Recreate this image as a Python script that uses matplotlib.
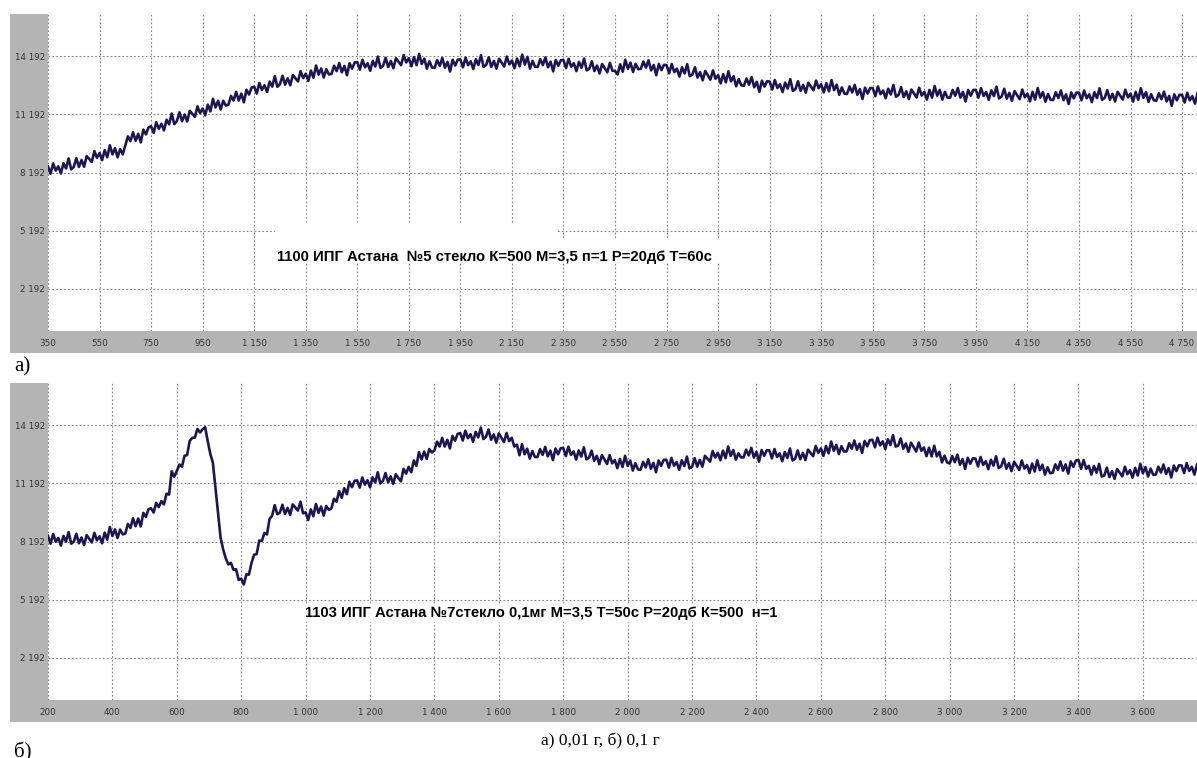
import numpy as np
import matplotlib
matplotlib.use("Agg")
import matplotlib.pyplot as plt
from matplotlib.patches import Rectangle

# ---------------- data ----------------
# Panel a): signal sampled every 10 units starting at 350
x_a_start, x_a_step = 350, 10
signal_a = [
    8500, 8130, 8660, 8290, 8510, 8140, 8670, 8400, 8920, 8350,
    8480, 8930, 8480, 8840, 8490, 9040, 8890, 8740, 9300, 8950,
    9200, 8830, 9350, 8980, 9600, 9130, 9450, 8980, 9400, 9130,
    9600, 10060, 9820, 10270, 9830, 10190, 9750, 10410, 10160, 10520,
    10580, 10240, 10790, 10450, 10710, 10370, 10920, 10680, 11240, 10690,
    10850, 11300, 10840, 11190, 10830, 11380, 11220, 11070, 11610, 11260,
    11500, 11150, 11700, 11350, 12000, 11550, 11900, 11450, 11900, 11650,
    11700, 12150, 11910, 12360, 11910, 12270, 11820, 12470, 12220, 12580,
    12630, 12270, 12820, 12460, 12700, 12350, 12890, 12630, 13170, 12620,
    12760, 13190, 12730, 13060, 12700, 13230, 13060, 12900, 13430, 13070,
    13300, 12930, 13460, 13090, 13720, 13250, 13570, 13100, 13530, 13260,
    13290, 13710, 13430, 13850, 13370, 13700, 13220, 13840, 13560, 13880,
    13900, 13510, 14020, 13630, 13840, 13450, 13960, 13670, 14180, 13590,
    13700, 14120, 13640, 13960, 13580, 14100, 13920, 13740, 14260, 13880,
    14100, 13680, 14160, 13740, 14320, 13800, 14080, 13560, 13940, 13620,
    13600, 14000, 13700, 14110, 13610, 13910, 13410, 14020, 13720, 14030,
    14030, 13630, 14130, 13740, 13940, 13540, 14050, 13750, 14250, 13650,
    13750, 14150, 13650, 13960, 13560, 14070, 13870, 13670, 14180, 13780,
    13980, 13580, 14080, 13680, 14280, 13770, 14170, 13560, 13960, 13650,
    13650, 14050, 13740, 14140, 13630, 13920, 13420, 14010, 13710, 14000,
    14000, 13590, 14070, 13660, 13840, 13430, 13910, 13600, 14080, 13470,
    13550, 13940, 13430, 13720, 13310, 13800, 13580, 13370, 13860, 13450,
    13440, 13260, 13780, 13400, 14020, 13550, 13870, 13390, 13810, 13530,
    13550, 13930, 13610, 13990, 13470, 13750, 13220, 13800, 13480, 13760,
    13740, 13320, 13800, 13380, 13560, 13150, 13630, 13310, 13790, 13170,
    13250, 13630, 13100, 13380, 12960, 13440, 13210, 12990, 13470, 13040,
    13220, 12800, 13270, 12850, 13420, 12900, 13170, 12650, 13020, 12700,
    12670, 13050, 12730, 13120, 12600, 12880, 12360, 12940, 12630, 12910,
    12890, 12480, 12970, 12560, 12750, 12350, 12840, 12530, 13020, 12410,
    12500, 12910, 12410, 12720, 12320, 12830, 12630, 12440, 12940, 12550,
    12750, 12330, 12810, 12390, 12970, 12450, 12730, 12210, 12590, 12270,
    12250, 12640, 12330, 12720, 12210, 12500, 11990, 12580, 12270, 12560,
    12550, 12140, 12640, 12240, 12430, 12030, 12520, 12220, 12720, 12110,
    12200, 12600, 12090, 12390, 11990, 12480, 12280, 12070, 12570, 12170,
    12360, 11960, 12460, 12060, 12660, 12160, 12460, 11960, 12360, 12060,
    12060, 12460, 12160, 12560, 12060, 12360, 11860, 12460, 12160, 12460,
    12460, 12060, 12550, 12150, 12350, 11950, 12440, 12140, 12630, 12020,
    12120, 12520, 12010, 12310, 11900, 12400, 12190, 11980, 12480, 12080,
    12270, 11870, 12360, 11960, 12560, 12060, 12350, 11850, 12250, 11950,
    11940, 12340, 12040, 12430, 11930, 12230, 11730, 12330, 12020, 12320,
    12320, 11920, 12430, 12030, 12230, 11830, 12340, 12040, 12540, 11950,
    12050, 12450, 11950, 12260, 11860, 12360, 12160, 11960, 12470, 12070,
    12270, 11860, 12360, 11950, 12550, 12050, 12340, 11840, 12240, 11930,
    11900, 12290, 11980, 12370, 11860, 12150, 11640, 12230, 11920, 12210,
    12200, 11810, 12310, 11920, 12140, 11750, 12290,
]

# Panel б): signal sampled every 8 units starting at 200
x_b_start, x_b_step = 200, 8
signal_b = [
    8480, 8080, 8580, 8180, 8380, 7980, 8480, 8180, 8680, 8080,
    8180, 8590, 8100, 8400, 8010, 8520, 8330, 8140, 8640, 8250,
    8460, 8100, 8650, 8290, 8940, 8480, 8820, 8370, 8810, 8560,
    8600, 9100, 8890, 9390, 8980, 9380, 8970, 9670, 9460, 9860,
    9910, 9690, 10190, 9970, 10280, 10110, 10660, 10620, 11820, 11540,
    11830, 12170, 12060, 12620, 12660, 13390, 13550, 13560, 14010, 13830,
    13990, 14100, 13380, 12720, 12260, 10960, 9680, 8380, 7780, 7320,
    7010, 7090, 6730, 6760, 6210, 6270, 5970, 6490, 6480, 7090,
    7510, 7540, 8240, 8220, 8630, 8560, 9360, 9520, 10070, 9600,
    9680, 10090, 9610, 9930, 9570, 10110, 9950, 9790, 10250, 9650,
    9700, 9300, 9850, 9500, 10130, 9670, 10000, 9530, 10030, 9830,
    9900, 10400, 10250, 10800, 10450, 10950, 10640, 11280, 11000, 11330,
    11350, 10980, 11500, 11130, 11360, 10990, 11510, 11240, 11770, 11190,
    11320, 11730, 11250, 11560, 11170, 11670, 11470, 11300, 11950, 11700,
    12050, 11770, 12380, 12100, 12810, 12430, 12840, 12460, 12970, 12790,
    12900, 13350, 13100, 13550, 13100, 13450, 13000, 13650, 13400, 13750,
    13800, 13410, 13920, 13530, 13740, 13350, 13860, 13570, 14080, 13490,
    13600, 13980, 13450, 13730, 13300, 13780, 13550, 13330, 13800, 13380,
    13550, 13100, 13200, 12650, 13220, 12700, 12990, 12480, 12870, 12560,
    12560, 12970, 12670, 13080, 12590, 12890, 12400, 13000, 12700, 13010,
    13030, 12610, 13090, 12670, 12850, 12430, 12900, 12580, 13060, 12440,
    12520, 12890, 12360, 12620, 12190, 12660, 12430, 12200, 12660, 12230,
    12400, 11980, 12460, 12040, 12620, 12100, 12380, 11860, 12240, 11920,
    11900, 12310, 12020, 12440, 11950, 12260, 11770, 12380, 12100, 12410,
    12420, 12010, 12510, 12110, 12300, 11900, 12390, 12090, 12580, 11970,
    12050, 12500, 12060, 12410, 12060, 12620, 12470, 12320, 12870, 12530,
    12780, 12390, 12890, 12500, 13100, 12610, 12920, 12420, 12750, 12540,
    12540, 12940, 12640, 13030, 12530, 12830, 12320, 12920, 12620, 12910,
    12900, 12490, 12970, 12560, 12750, 12340, 12820, 12510, 13000, 12380,
    12470, 12900, 12440, 12770, 12400, 12940, 12770, 12600, 13130, 12770,
    13000, 12620, 13130, 12750, 13360, 12880, 13190, 12710, 13120, 12840,
    12850, 13270, 12990, 13410, 12930, 13250, 12770, 13390, 13110, 13430,
    13450, 13060, 13560, 13160, 13370, 12970, 13480, 13180, 13690, 13100,
    13150, 13520, 12990, 13260, 12830, 13300, 13070, 12840, 13310, 12880,
    13050, 12600, 13040, 12590, 13140, 12590, 12830, 12280, 12630, 12280,
    12220, 12610, 12290, 12680, 12160, 12450, 11940, 12520, 12210, 12490,
    12480, 12070, 12560, 12150, 12340, 11930, 12420, 12110, 12600, 11990,
    12080, 12470, 11950, 12240, 11830, 12320, 12100, 11890, 12380, 11960,
    12150, 11740, 12220, 11810, 12390, 11880, 12160, 11650, 12030, 11720,
    11750, 12180, 11900, 12330, 11850, 12180, 11700, 12330, 12050, 12380,
    12400, 11950, 12400, 11950, 12100, 11650, 12100, 11750, 12200, 11550,
    11600, 12010, 11520, 11830, 11430, 11940, 11750, 11560, 12060, 11670,
    11880, 11490, 12000, 11600, 12210, 11720, 12040, 11550, 11960, 11640,
    11650, 12060, 11760, 12170, 11680, 11990, 11500, 12120, 11830, 12130,
    12120, 11730, 12240, 11840, 12050, 11650, 12170,
]

y_ticks = [2192, 5192, 8192, 11192, 14192]
y_labels = ["2 192", "5 192", "8 192", "11 192", "14 192"]
x_ticks_a = [350, 550, 750, 950, 1150, 1350, 1550, 1750, 1950, 2150, 2350, 2550,
             2750, 2950, 3150, 3350, 3550, 3750, 3950, 4150, 4350, 4550, 4750]
x_ticks_b = [200, 400, 600, 800, 1000, 1200, 1400, 1600, 1800, 2000, 2200, 2400,
             2600, 2800, 3000, 3200, 3400, 3600]
label_a = "1100 ИПГ Астана  №5 стекло К=500 М=3,5 п=1 Р=20дб Т=60с"
label_b = "1103 ИПГ Астана №7стекло 0,1мг М=3,5 Т=50с Р=20дб К=500  н=1"
caption = "а) 0,01 г, б) 0,1 г"

def fmt(v):
    return f"{v:,}".replace(",", " ")

# ---------------- figure ----------------
W, H = 1197, 758
fig = plt.figure(figsize=(W / 100, H / 100), dpi=100)
fig.patch.set_facecolor("white")

GRAY = "#b4b4b4"
LINE = "#1e1650"

def px_rect(x0, y0, x1, y1):
    return [x0 / W, 1 - y1 / H, (x1 - x0) / W, (y1 - y0) / H]

# gray frames (background axes)
for (x0, y0, x1, y1) in [(10, 14, 1197, 353), (10, 383, 1197, 722)]:
    bg = fig.add_axes(px_rect(x0, y0, x1, y1), zorder=0)
    bg.set_facecolor(GRAY)
    bg.set_xticks([])
    bg.set_yticks([])
    for s in bg.spines.values():
        s.set_visible(False)

def setup(ax, xs, ys, xticks, xlim):
    ax.set_facecolor("white")
    ax.plot(xs, ys, color=LINE, lw=1.9, zorder=3)
    ax.set_xlim(*xlim)
    ax.set_ylim(0, 16384)
    ax.set_yticks(y_ticks)
    ax.set_yticklabels(y_labels)
    ax.set_xticks(xticks)
    ax.set_xticklabels([fmt(v) for v in xticks])
    ax.tick_params(axis="both", length=0, labelsize=6.3, labelcolor="#333333")
    ax.tick_params(axis="y", pad=2)
    ax.tick_params(axis="x", pad=6)
    for s in ax.spines.values():
        s.set_visible(False)
    ax.grid(True, color="#808080", linestyle=(0, (1.5, 2)), linewidth=0.8, zorder=1)
    ax.set_axisbelow(True)

ax1 = fig.add_axes(px_rect(48, 14, 1197, 331), zorder=2)
xa = x_a_start + x_a_step * np.arange(len(signal_a))
setup(ax1, xa, signal_a, x_ticks_a, (350, 4808))

ax2 = fig.add_axes(px_rect(48, 383, 1197, 700), zorder=2)
xb = x_b_start + x_b_step * np.arange(len(signal_b))
setup(ax2, xb, signal_b, x_ticks_b, (200, 3768))

# white boxes behind label of panel a
ax1.add_patch(Rectangle((0.1976, 0.2145), 0.2454, 0.1262, transform=ax1.transAxes,
                        facecolor="white", edgecolor="none", zorder=2))
ax1.add_patch(Rectangle((0.443, 0.2145), 0.142, 0.0725, transform=ax1.transAxes,
                        facecolor="white", edgecolor="none", zorder=2))
ax1.text(0.1993, 0.2334, label_a, transform=ax1.transAxes, ha="left", va="center",
         fontsize=10.7, fontweight="bold", family="Liberation Sans", color="black", zorder=4)

ax2.text(0.2237, 0.2744, label_b, transform=ax2.transAxes, ha="left", va="center",
         fontsize=10.7, fontweight="bold", family="Liberation Sans", color="black", zorder=4,
         bbox=dict(boxstyle="square,pad=0.15", facecolor="white", edgecolor="none"))

fig.text(14 / W, 1 - 367 / H, "а)", ha="left", va="center", fontsize=15,
         family="Liberation Serif", color="black")
fig.text(14 / W, 1 - 742 / H, "б)", ha="left", va="top", fontsize=15,
         family="Liberation Serif", color="black")
fig.text(600 / W, 1 - 741 / H, caption, ha="center", va="center", fontsize=12.5,
         family="Liberation Serif", color="black")

fig.savefig("out.png", dpi=100, facecolor="white")
